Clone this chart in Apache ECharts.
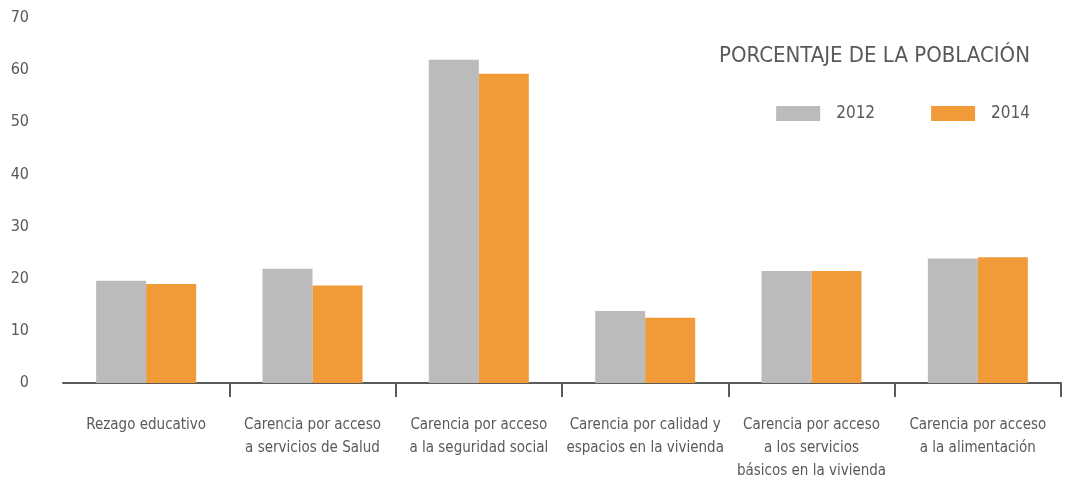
<!DOCTYPE html>
<html>
<head>
<meta charset="utf-8">
<script src="https://cdn.jsdelivr.net/npm/echarts@6/dist/echarts.min.js"></script>
<style>
  html, body { margin: 0; padding: 0; background: #fff; }
  #chart { width: 1075px; height: 485px; }
</style>
</head>
<body>
<div id="chart"></div>
<script>
// datos de la gráfica
var categorias = [
    'Rezago educativo',
    'Carencia por acceso\na servicios de Salud',
    'Carencia por acceso\na la seguridad social',
    'Carencia por calidad y\nespacios en la vivienda',
    'Carencia por acceso\na los servicios\nbásicos en la vivienda',
    'Carencia por acceso\na la alimentación'
];
var valores2012 = [19.6, 21.9, 62.0, 13.8, 21.5, 23.9];
var valores2014 = [19.0, 18.7, 59.3, 12.5, 21.5, 24.1];
var ticksY = [0, 10, 20, 30, 40, 50, 60, 70];

var fuente = "'Liberation Sans Narrow', 'DejaVu Sans Condensed', 'Roboto', sans-serif";
var gris = '#bbbbbb';
var naranja = '#f19a38';
var texto = '#58595b';

var myChart = echarts.init(document.getElementById('chart'));

var option = {
    animation: false,
    textStyle: { fontFamily: fuente, color: texto },
    title: {
        text: 'PORCENTAJE DE LA POBLACIÓN',
        right: 40,
        top: 40,
        textStyle: { fontFamily: fuente, fontSize: 22, fontWeight: 'normal', color: texto }
    },
    legend: {
        data: ['2012', '2014'],
        right: 40,
        top: 100,
        itemWidth: 44,
        itemHeight: 15,
        itemGap: 56,
        icon: 'rect',
        textStyle: { fontFamily: fuente, fontSize: 17, color: texto, padding: [0, 0, 0, 11] }
    },
    grid: { left: 63, right: 14, top: 18, bottom: 102 },
    xAxis: {
        type: 'category',
        data: categorias,
        axisLine: { lineStyle: { color: '#5a5a5a', width: 2 } },
        axisTick: {
            show: true,
            length: 14,
            // sin marca en el extremo izquierdo
            interval: function (i) { return i !== 0; },
            lineStyle: { color: '#5a5a5a', width: 2 }
        },
        axisLabel: {
            interval: 0,
            margin: 31,
            fontSize: 15,
            lineHeight: 23,
            color: texto,
            fontFamily: fuente,
            verticalAlign: 'top'
        }
    },
    yAxis: {
        type: 'value',
        min: ticksY[0],
        max: ticksY[ticksY.length - 1],
        interval: 10,
        axisLine: { show: false },
        axisTick: { show: false },
        splitLine: { show: false },
        axisLabel: { margin: 34, fontSize: 16, color: texto, fontFamily: fuente }
    },
    series: [
        {
            name: '2012',
            type: 'bar',
            data: valores2012,
            barWidth: 50,
            barGap: '0%',
            itemStyle: { color: gris }
        },
        {
            name: '2014',
            type: 'bar',
            data: valores2014,
            barWidth: 50,
            itemStyle: { color: naranja }
        }
    ]
};

myChart.setOption(option);
</script>
</body>
</html>
